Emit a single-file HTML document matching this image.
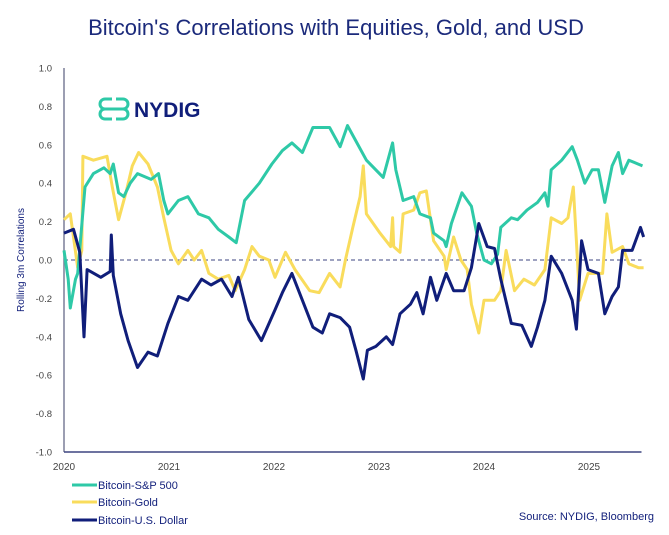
<!DOCTYPE html>
<html><head><meta charset="utf-8"><style>
body{margin:0;background:#fff;}
#wrap{position:relative;width:669px;height:535px;overflow:hidden;font-family:"Liberation Sans",sans-serif;}
</style></head><body>
<div id="wrap">
<svg id="chart" width="669" height="535" viewBox="0 0 669 535">
<text x="336" y="35" text-anchor="middle" font-size="22" fill="#1b2a7b" font-family="Liberation Sans, sans-serif">Bitcoin's Correlations with Equities, Gold, and USD</text>
<g>
<path d="M112 99 h-7 a5 5 0 0 0 0 10 h18 a5 5 0 0 1 0 10 h-7 M116 99 h7 a5 5 0 0 1 0 10 M112 119 h-7 a5 5 0 0 1 0-10" fill="none" stroke="#2ec9a7" stroke-width="3"/>
<text x="134" y="117" font-size="21" font-weight="bold" fill="#101e7a">NYDIG</text>
</g>
<g id="axes"></g>
<g id="series"></g>
<text transform="translate(24,260) rotate(-90)" text-anchor="middle" font-size="10" fill="#101e7a">Rolling 3m Correlations</text>
<g>
<g><line x1="72" y1="485" x2="97" y2="485" stroke="#2ec9a7" stroke-width="3"/><text x="98" y="489" font-size="11" fill="#101e7a">Bitcoin-S&amp;P 500</text></g>
<g><line x1="72" y1="502" x2="97" y2="502" stroke="#f9dc5c" stroke-width="3"/><text x="98" y="506" font-size="11" fill="#101e7a">Bitcoin-Gold</text></g>
<g><line x1="72" y1="520" x2="97" y2="520" stroke="#101e7a" stroke-width="3"/><text x="98" y="524" font-size="11" fill="#101e7a">Bitcoin-U.S. Dollar</text></g>
</g>
<text x="654" y="520" text-anchor="end" font-size="11" fill="#101e7a">Source: NYDIG, Bloomberg</text>
</svg>
</div>
<script>
const yTicks=[1.0,0.8,0.6,0.4,0.2,0.0,-0.2,-0.4,-0.6,-0.8,-1.0];
const xYears=[2020,2021,2022,2023,2024,2025];
const spT=[0,.04,.06,.11,.13,.2,.28,.38,.44,.47,.52,.57,.63,.7,.83,.9,.95,.99,1.09,1.18,1.28,1.38,1.47,1.57,1.64,1.72,1.86,1.98,2.08,2.17,2.27,2.37,2.53,2.63,2.7,2.78,2.88,3.04,3.13,3.16,3.23,3.33,3.39,3.49,3.52,3.62,3.64,3.69,3.79,3.88,3.93,4.0,4.07,4.13,4.16,4.26,4.32,4.41,4.51,4.58,4.61,4.64,4.74,4.84,4.89,4.96,5.03,5.09,5.15,5.22,5.28,5.32,5.38,5.51];
const spV=[0.05,-0.1,-0.25,-0.1,-0.07,.38,.45,.48,.45,.5,.35,.33,.4,.45,.42,.45,.31,.24,.31,.33,.24,.22,.16,.12,.09,.31,.4,.5,.57,.61,.56,.69,.69,.59,.7,.62,.52,.43,.61,.47,.31,.33,.24,.22,.14,.1,.07,.19,.35,.28,.14,0,-.02,.03,.17,.22,.21,.26,.3,.35,.28,.47,.52,.59,.52,.4,.47,.47,.3,.49,.56,.45,.52,.49];
const goldT=[0,.06,.13,.17,.18,.28,.41,.46,.52,.59,.65,.71,.8,.89,.95,1.02,1.09,1.18,1.24,1.31,1.38,1.47,1.57,1.63,1.72,1.79,1.86,1.95,2.01,2.11,2.2,2.34,2.43,2.53,2.63,2.68,2.75,2.82,2.85,2.88,3.01,3.11,3.13,3.14,3.2,3.23,3.33,3.39,3.45,3.52,3.62,3.64,3.71,3.78,3.84,3.88,3.95,4.0,4.1,4.16,4.21,4.29,4.38,4.48,4.58,4.64,4.74,4.8,4.85,4.88,4.91,4.99,5.13,5.17,5.22,5.32,5.38,5.47,5.52];
const goldV=[.21,.24,-.04,.05,.54,.52,.54,.38,.21,.35,.49,.56,.5,.38,.22,.05,-.02,.05,0,.05,-.07,-.1,-.08,-.16,-.05,.07,.02,0,-.09,.04,-.05,-.16,-.17,-.07,-.14,0,.17,.33,.49,.24,.14,.07,.22,.07,.04,.24,.26,.35,.36,.1,.02,-.05,.12,0,-.05,-.23,-.38,-.21,-.21,-.16,.05,-.16,-.1,-.13,-.05,.22,.19,.22,.38,.1,-.21,-.07,-.07,.24,.04,.07,-.02,-.04,-.04];
const usdT=[0,.09,.15,.19,.22,.35,.44,.45,.47,.54,.61,.7,.8,.89,.99,1.09,1.18,1.31,1.4,1.5,1.6,1.66,1.76,1.88,2.01,2.08,2.17,2.27,2.37,2.46,2.53,2.63,2.72,2.78,2.85,2.89,2.97,3.07,3.13,3.2,3.3,3.36,3.42,3.49,3.55,3.64,3.71,3.81,3.88,3.95,4.03,4.1,4.16,4.26,4.36,4.45,4.51,4.58,4.64,4.74,4.84,4.88,4.93,4.99,5.09,5.15,5.22,5.28,5.32,5.41,5.49,5.52];
const usdV=[.14,.16,.04,-.4,-.05,-.09,-.06,.13,-.08,-.28,-.42,-.56,-.48,-.5,-.33,-.19,-.21,-.1,-.13,-.1,-.19,-.09,-.31,-.42,-.26,-.17,-.07,-.21,-.35,-.38,-.28,-.3,-.35,-.47,-.62,-.47,-.45,-.4,-.44,-.28,-.23,-.17,-.28,-.09,-.21,-.07,-.16,-.16,-.04,.19,.07,.06,-.1,-.33,-.34,-.45,-.35,-.21,.02,-.07,-.21,-.36,.1,-.05,-.07,-.28,-.19,-.14,.05,.05,.17,.12];

const NS='http://www.w3.org/2000/svg';
const X0=64,PX=105,Y0=260,PY=192;
function xs(t){return X0+t*PX;}
function ys(v){return Y0-v*PY;}
const axes=document.getElementById('axes');
const series=document.getElementById('series');
function mk(tag,attrs,parent){const e=document.createElementNS(NS,tag);for(const k in attrs)e.setAttribute(k,attrs[k]);parent.appendChild(e);return e;}

const yAxis=mk('line',{x1:X0,y1:ys(1),x2:X0,y2:ys(-1),stroke:'#7b7f99','stroke-width':1.5},axes);


const xAxis=mk('line',{x1:X0,y1:ys(-1),x2:xs(5.5),y2:ys(-1),stroke:'#3d4580','stroke-width':1.5},axes);


const zl=mk('line',{x1:X0,y1:ys(0),x2:xs(5.5),y2:ys(0),stroke:'#3d4580','stroke-width':1,'stroke-dasharray':'4,3'},axes);


yTicks.forEach(v=>{
  const t=mk('text',{x:52,y:ys(v)+3.5,'text-anchor':'end','font-size':'9.5',fill:'#444'},axes);
  t.textContent=v.toFixed(1);
  
  
});
xYears.forEach(yr=>{
  const t=mk('text',{x:xs(yr-2020),y:470,'text-anchor':'middle','font-size':'10',fill:'#444'},axes);
  t.textContent=yr;
  
  
});
function line(T,V,color,name){
  const d=T.map((t,i)=>(i?'L':'M')+xs(t).toFixed(1)+' '+ys(V[i]).toFixed(1)).join(' ');
  const p=mk('path',{d:d,fill:'none',stroke:color,'stroke-width':3,'stroke-linejoin':'round'},series);
  
  
}
line(goldT,goldV,'#f9dc5c','gold-correlation-line');
line(spT,spV,'#2ec9a7','sp500-correlation-line');
line(usdT,usdV,'#101e7a','usd-correlation-line');
</script>
</body></html>
